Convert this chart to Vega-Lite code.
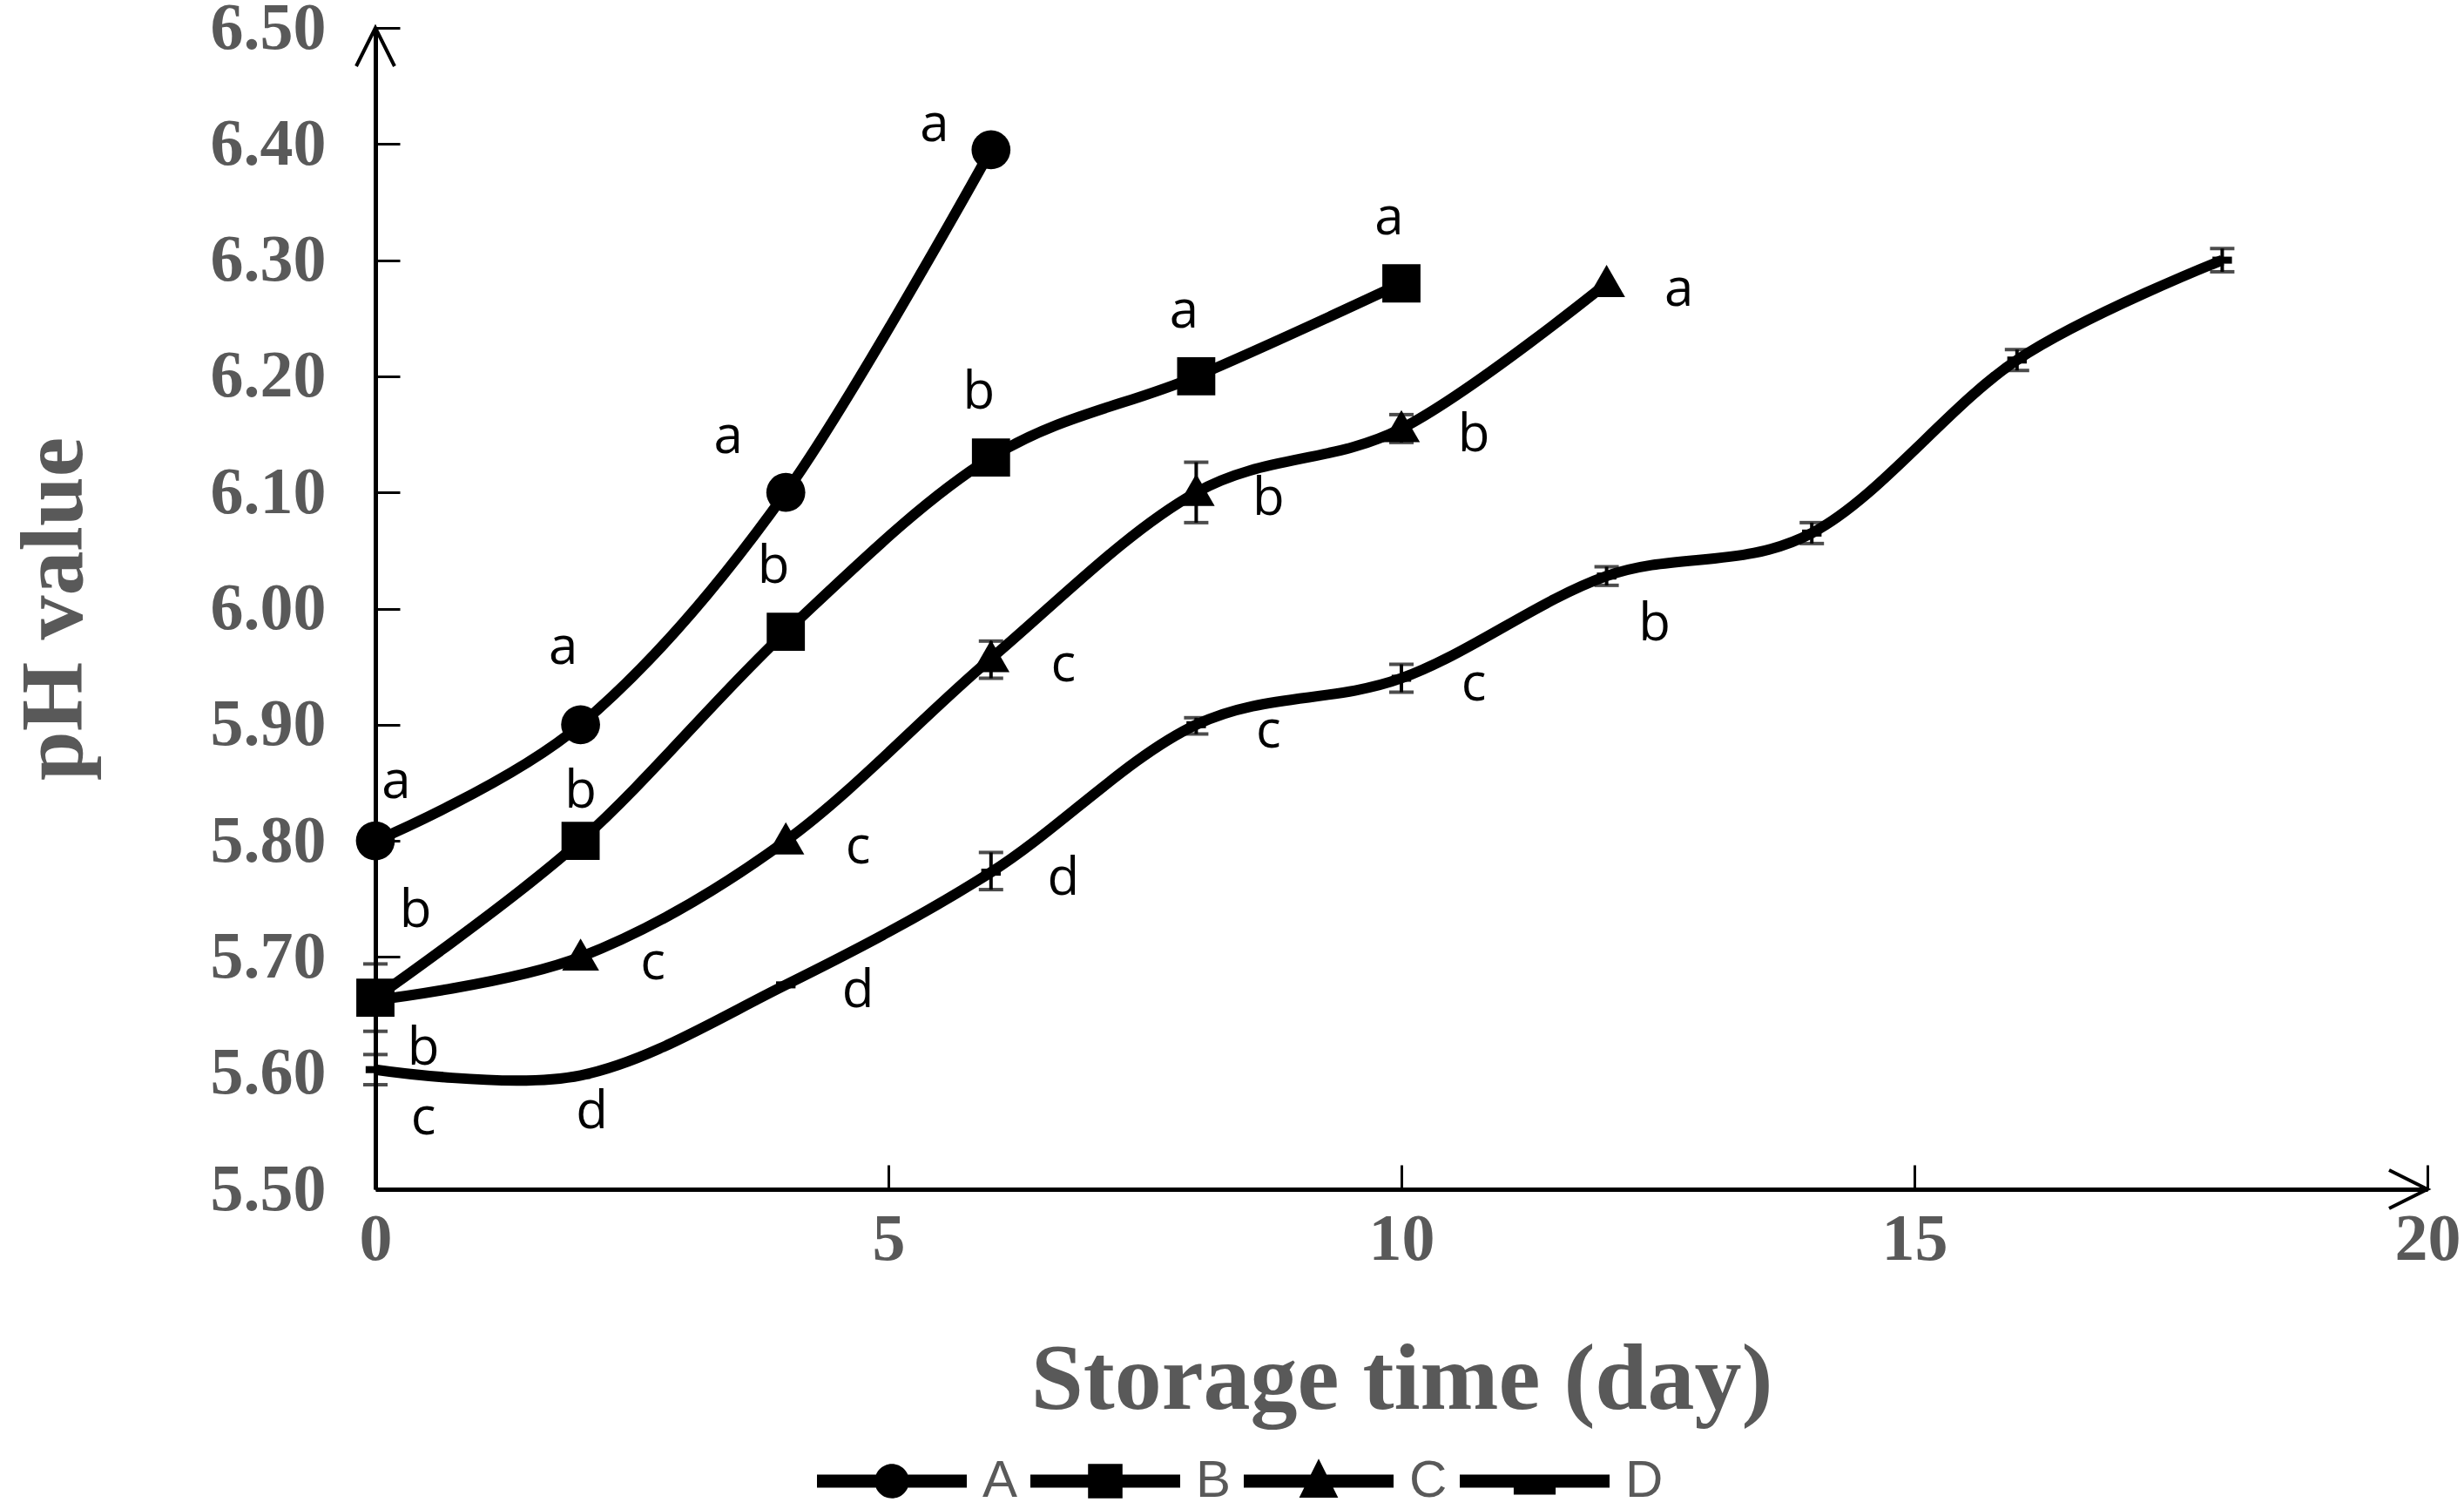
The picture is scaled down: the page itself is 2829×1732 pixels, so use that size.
{
  "$schema": "https://vega.github.io/schema/vega-lite/v6.json",
  "width": 2356,
  "height": 1333,
  "autosize": "none",
  "padding": {"left": 431, "top": 32, "right": 42, "bottom": 367},
  "background": "white",
  "config": {
    "view": {"stroke": null},
    "axis": {
      "grid": false,
      "domainColor": "black",
      "domainWidth": 5,
      "tickColor": "black",
      "tickWidth": 3,
      "tickSize": -28,
      "labelFont": "Liberation Serif",
      "labelFontWeight": "bold",
      "labelFontSize": 76,
      "labelColor": "#595959",
      "labelFlush": false,
      "labelOverlap": false,
      "titleFont": "Liberation Serif",
      "titleFontWeight": "bold",
      "titleColor": "#595959"
    }
  },
  "datasets": {
    "ph": [
      {"series": "A", "day": 0, "ph": 5.80},
      {"series": "A", "day": 2, "ph": 5.90},
      {"series": "A", "day": 4, "ph": 6.10},
      {"series": "A", "day": 6, "ph": 6.395},
      {"series": "B", "day": 0, "ph": 5.665},
      {"series": "B", "day": 2, "ph": 5.80},
      {"series": "B", "day": 4, "ph": 5.98},
      {"series": "B", "day": 6, "ph": 6.13},
      {"series": "B", "day": 8, "ph": 6.20},
      {"series": "B", "day": 10, "ph": 6.28},
      {"series": "C", "day": 0, "ph": 5.663},
      {"series": "C", "day": 2, "ph": 5.70},
      {"series": "C", "day": 4, "ph": 5.80},
      {"series": "C", "day": 6, "ph": 5.957},
      {"series": "C", "day": 8, "ph": 6.10},
      {"series": "C", "day": 10, "ph": 6.155},
      {"series": "C", "day": 12, "ph": 6.28},
      {"series": "D", "day": 0, "ph": 5.603},
      {"series": "D", "day": 2, "ph": 5.598},
      {"series": "D", "day": 4, "ph": 5.676},
      {"series": "D", "day": 6, "ph": 5.773},
      {"series": "D", "day": 8, "ph": 5.90},
      {"series": "D", "day": 10, "ph": 5.94},
      {"series": "D", "day": 12, "ph": 6.028},
      {"series": "D", "day": 14, "ph": 6.065},
      {"series": "D", "day": 16, "ph": 6.214},
      {"series": "D", "day": 18, "ph": 6.30}
    ],
    "err": [
      {"series": "D", "day": 0, "lo": 5.590, "hi": 5.616},
      {"series": "C", "day": 0, "lo": 5.636, "hi": 5.694},
      {"series": "A", "day": 2, "lo": 5.890, "hi": 5.912},
      {"series": "C", "day": 6, "lo": 5.940, "hi": 5.972},
      {"series": "C", "day": 8, "lo": 6.074, "hi": 6.126},
      {"series": "C", "day": 10, "lo": 6.143, "hi": 6.167},
      {"series": "D", "day": 6, "lo": 5.758, "hi": 5.790},
      {"series": "D", "day": 8, "lo": 5.892, "hi": 5.906},
      {"series": "D", "day": 10, "lo": 5.928, "hi": 5.952},
      {"series": "D", "day": 12, "lo": 6.020, "hi": 6.036},
      {"series": "D", "day": 14, "lo": 6.056, "hi": 6.074},
      {"series": "D", "day": 16, "lo": 6.205, "hi": 6.223},
      {"series": "D", "day": 18, "lo": 6.290, "hi": 6.310}
    ],
    "arrows": [
      {"dir": "up", "day": 0, "ph": 6.5},
      {"dir": "right", "day": 20, "ph": 5.5}
    ],
    "letters": [
      {"series": "A", "day": 0, "ph": 5.80, "t": "a", "pos": "ar"},
      {"series": "A", "day": 2, "ph": 5.90, "t": "a", "pos": "a1"},
      {"series": "A", "day": 4, "ph": 6.10, "t": "a", "pos": "ul"},
      {"series": "A", "day": 6, "ph": 6.395, "t": "a", "pos": "l"},
      {"series": "B", "day": 0, "ph": 5.665, "t": "b", "pos": "urr"},
      {"series": "B", "day": 2, "ph": 5.80, "t": "b", "pos": "u2"},
      {"series": "B", "day": 4, "ph": 5.98, "t": "b", "pos": "u"},
      {"series": "B", "day": 6, "ph": 6.13, "t": "b", "pos": "u"},
      {"series": "B", "day": 8, "ph": 6.20, "t": "a", "pos": "u"},
      {"series": "B", "day": 10, "ph": 6.28, "t": "a", "pos": "u"},
      {"series": "C", "day": 0, "ph": 5.663, "t": "b", "pos": "dr"},
      {"series": "C", "day": 2, "ph": 5.70, "t": "c", "pos": "r"},
      {"series": "C", "day": 4, "ph": 5.80, "t": "c", "pos": "r"},
      {"series": "C", "day": 6, "ph": 5.957, "t": "c", "pos": "r"},
      {"series": "C", "day": 8, "ph": 6.10, "t": "b", "pos": "r"},
      {"series": "C", "day": 10, "ph": 6.155, "t": "b", "pos": "r"},
      {"series": "C", "day": 12, "ph": 6.28, "t": "a", "pos": "r"},
      {"series": "D", "day": 0, "ph": 5.603, "t": "c", "pos": "dr"},
      {"series": "D", "day": 2, "ph": 5.598, "t": "d", "pos": "d"},
      {"series": "D", "day": 4, "ph": 5.676, "t": "d", "pos": "r"},
      {"series": "D", "day": 6, "ph": 5.773, "t": "d", "pos": "r"},
      {"series": "D", "day": 8, "ph": 5.90, "t": "c", "pos": "r"},
      {"series": "D", "day": 10, "ph": 5.94, "t": "c", "pos": "r"},
      {"series": "D", "day": 12, "ph": 6.028, "t": "b", "pos": "dr"}
    ]
  },
  "encoding": {
    "x": {
      "field": "day",
      "type": "quantitative",
      "title": "Storage time (day)",
      "scale": {"domain": [0, 20], "nice": false, "zero": false},
      "axis": {
        "values": [0, 5, 10, 15, 20],
        "labelPadding": 48,
        "titleFontSize": 108,
        "titlePadding": 71
      }
    },
    "y": {
      "field": "ph",
      "type": "quantitative",
      "title": "pH value",
      "scale": {"domain": [5.5, 6.5], "nice": false, "zero": false},
      "axis": {
        "values": [5.5, 5.6, 5.7, 5.8, 5.9, 6.0, 6.1, 6.2, 6.3, 6.4, 6.5],
        "format": ".2f",
        "labelPadding": 85,
        "titleFontSize": 102,
        "titlePadding": 127
      }
    }
  },
  "resolve": {"scale": {"shape": "independent"}, "legend": {"shape": "independent"}},
  "layer": [
    {
      "data": {"name": "ph"},
      "mark": {"type": "line", "interpolate": "cardinal", "color": "black", "strokeWidth": 12},
      "encoding": {"detail": {"field": "series"}}
    },
    {
      "data": {"name": "err"},
      "mark": {"type": "errorbar", "ticks": true, "size": 28, "thickness": 4, "color": "black"},
      "encoding": {
        "y": {"field": "lo", "type": "quantitative", "title": "pH value"},
        "y2": {"field": "hi"}
      }
    },
    {
      "data": {"name": "ph"},
      "mark": {"type": "point", "filled": true, "color": "black", "opacity": 1, "size": 2000},
      "encoding": {
        "shape": {
          "field": "series",
          "type": "nominal",
          "scale": {
            "domain": ["A", "B", "C", "D"],
            "range": ["circle", "M-0.98,-0.98H0.98V0.98H-0.98Z", "M0,-0.95L0.95,0.7L-0.95,0.7Z", "M-0.5,-0.18H0.5V0.18H-0.5Z"]
          },
          "legend": null
        }
      }
    },
    {
      "data": {"name": "ph"},
      "mark": {"type": "point", "filled": true, "color": "black", "opacity": 1, "size": 0},
      "encoding": {
        "shape": {
          "field": "series",
          "type": "nominal",
          "scale": {
            "domain": ["A", "B", "C", "D"],
            "range": [
              "M-1,-0.087H1V0.087H-1Z M-0.23,0A0.23,0.23 0 1 1 0.23,0A0.23,0.23 0 1 1 -0.23,0Z",
              "M-1,-0.087H1V0.087H-1Z M-0.23,-0.23H0.23V0.23H-0.23Z",
              "M-1,-0.087H1V0.087H-1Z M0,-0.3L0.26,0.22L-0.26,0.22Z",
              "M-1,-0.087H1V0.087H-1Z M-0.28,0H0.28V0.18H-0.28Z"
            ]
          },
          "legend": {
            "orient": "none",
            "legendX": 507,
            "legendY": 1582,
            "direction": "horizontal",
            "columns": 4,
            "title": null,
            "padding": 0,
            "symbolSize": 29584,
            "symbolStrokeWidth": 0,
            "symbolFillColor": "black",
            "symbolOpacity": 1,
            "labelFont": "Liberation Sans",
            "labelFontSize": 60,
            "labelColor": "#595959",
            "labelOffset": 18,
            "columnPadding": 14
          }
        }
      }
    },
    {
      "data": {"name": "letters"},
      "transform": [{"filter": "datum.pos === 'r'"}],
      "mark": {"type": "text", "font": "Open Sans", "fontSize": 60, "color": "black", "align": "center", "baseline": "middle", "dx": 83, "dy": 8},
      "encoding": {"text": {"field": "t"}}
    },
    {
      "data": {"name": "letters"},
      "transform": [{"filter": "datum.pos === 'u'"}],
      "mark": {"type": "text", "font": "Open Sans", "fontSize": 60, "color": "black", "align": "center", "baseline": "middle", "dx": -14, "dy": -74},
      "encoding": {"text": {"field": "t"}}
    },
    {
      "data": {"name": "letters"},
      "transform": [{"filter": "datum.pos === 'u2'"}],
      "mark": {"type": "text", "font": "Open Sans", "fontSize": 60, "color": "black", "align": "center", "baseline": "middle", "dx": 0, "dy": -56},
      "encoding": {"text": {"field": "t"}}
    },
    {
      "data": {"name": "letters"},
      "transform": [{"filter": "datum.pos === 'dr'"}],
      "mark": {"type": "text", "font": "Open Sans", "fontSize": 60, "color": "black", "align": "center", "baseline": "middle", "dx": 55, "dy": 56},
      "encoding": {"text": {"field": "t"}}
    },
    {
      "data": {"name": "letters"},
      "transform": [{"filter": "datum.pos === 'd'"}],
      "mark": {"type": "text", "font": "Open Sans", "fontSize": 60, "color": "black", "align": "center", "baseline": "middle", "dx": 13, "dy": 43},
      "encoding": {"text": {"field": "t"}}
    },
    {
      "data": {"name": "letters"},
      "transform": [{"filter": "datum.pos === 'ar'"}],
      "mark": {"type": "text", "font": "Open Sans", "fontSize": 60, "color": "black", "align": "center", "baseline": "middle", "dx": 24, "dy": -67},
      "encoding": {"text": {"field": "t"}}
    },
    {
      "data": {"name": "letters"},
      "transform": [{"filter": "datum.pos === 'a1'"}],
      "mark": {"type": "text", "font": "Open Sans", "fontSize": 60, "color": "black", "align": "center", "baseline": "middle", "dx": -20, "dy": -88},
      "encoding": {"text": {"field": "t"}}
    },
    {
      "data": {"name": "letters"},
      "transform": [{"filter": "datum.pos === 'ul'"}],
      "mark": {"type": "text", "font": "Open Sans", "fontSize": 60, "color": "black", "align": "center", "baseline": "middle", "dx": -66, "dy": -63},
      "encoding": {"text": {"field": "t"}}
    },
    {
      "data": {"name": "letters"},
      "transform": [{"filter": "datum.pos === 'l'"}],
      "mark": {"type": "text", "font": "Open Sans", "fontSize": 60, "color": "black", "align": "center", "baseline": "middle", "dx": -65, "dy": -28},
      "encoding": {"text": {"field": "t"}}
    },
    {
      "data": {"name": "letters"},
      "transform": [{"filter": "datum.pos === 'urr'"}],
      "mark": {"type": "text", "font": "Open Sans", "fontSize": 60, "color": "black", "align": "center", "baseline": "middle", "dx": 46, "dy": -99},
      "encoding": {"text": {"field": "t"}}
    },
    {
      "data": {"name": "arrows"},
      "transform": [{"filter": "datum.dir === 'up'"}],
      "mark": {"type": "point", "shape": "M-0.5,1L0,0L0.5,1", "size": 7744, "filled": false, "color": "black", "strokeWidth": 4, "opacity": 1},
      "encoding": {}
    },
    {
      "data": {"name": "arrows"},
      "transform": [{"filter": "datum.dir === 'right'"}],
      "mark": {"type": "point", "shape": "M-1,-0.5L0,0L-1,0.5", "size": 7744, "filled": false, "color": "black", "strokeWidth": 4, "opacity": 1},
      "encoding": {}
    }
  ]
}
